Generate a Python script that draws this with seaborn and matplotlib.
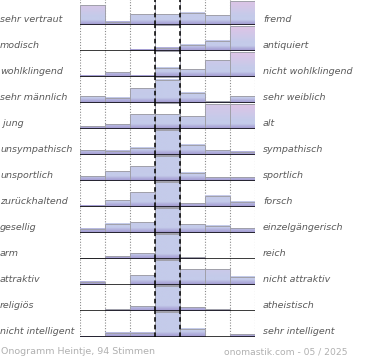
import numpy as np
import pandas as pd
import matplotlib
matplotlib.use("Agg")
import matplotlib.pyplot as plt
import seaborn as sns

left_labels = ["sehr vertraut", "modisch", "wohlklingend", "sehr männlich", " jung",
               "unsympathisch", "unsportlich", "zurückhaltend", "gesellig", "arm",
               "attraktiv", "religiös", "nicht intelligent"]
right_labels = ["fremd", "antiquiert", "nicht wohlklingend", "sehr weiblich", "alt",
                "sympathisch", "sportlich", "forsch", "einzelgängerisch", "reich",
                "nicht attraktiv", "atheistisch", "sehr intelligent"]
positions = [1, 2, 3, 4, 5, 6, 7]
row01 = [20, 3.5, 11, 11, 12.5, 10, 24]
row02 = [0, 0, 1.5, 3.5, 6.5, 10.5, 25]
row03 = [1.5, 4.7, 1.5, 9.3, 8, 17, 25]
row04 = [7, 5.5, 15, 23.5, 10.5, 2, 7]
row05 = [3, 4.7, 14.7, 14.7, 13, 25, 25]
row06 = [5, 4.5, 7.5, 25, 10.5, 5, 3.5]
row07 = [5, 10, 15, 25, 8.5, 4, 4]
row08 = [1.5, 7, 15, 25, 4, 11.5, 5.5]
row09 = [4.3, 9, 10.7, 25, 8.7, 7.3, 4.7]
row10 = [1, 2.7, 6, 25, 2, 0, 0]
row11 = [3.3, 0, 9.7, 25, 15.7, 15.7, 8.3]
row12 = [0, 2, 5, 25, 4, 2, 0]
row13 = [0.5, 4.3, 4.3, 25, 8.3, 0, 3]
rows = [row01, row02, row03, row04, row05, row06, row07, row08, row09, row10,
        row11, row12, row13]
footer_left = "Onogramm Heintje, 94 Stimmen"
footer_right = "onomastik.com - 05 / 2025"

W, H = 370, 360
fig = plt.figure(figsize=(W / 100, H / 100), dpi=100)
fig.patch.set_facecolor("white")

X0, X1 = 80, 255
ROW = 26
FIRST_BASE = 25
YMAX = 26.0

blue = np.array([196, 203, 234]) / 255
pink = np.array([222, 196, 230]) / 255
dark = np.array([150, 136, 200]) / 255


def grad(h, col, n=60):
    ys = np.linspace(0, h, n)
    pw = abs(col - 3) / 3.0
    t = ys / YMAX
    k = np.clip((t - 0.35) / 0.6, 0, 1) * pw
    c = blue[None, :] + (pink - blue)[None, :] * k[:, None]
    d = np.clip(1 - ys / 5.0, 0, 1) ** 0.8 * 0.8
    c = c * (1 - d[:, None]) + dark[None, :] * d[:, None]
    return np.repeat(c[:, None, :], 2, axis=1)


for i, vals in enumerate(rows):
    base = FIRST_BASE + ROW * i
    ax = fig.add_axes([X0 / W, (H - base) / H, (X1 - X0) / W, ROW / H])
    df = pd.DataFrame({"pos": positions, "val": vals})
    sns.barplot(data=df, x="pos", y="val", ax=ax, width=1, color=blue,
                errorbar=None, order=positions)
    ax.set_axis_off()
    ax.axvspan(2.5, 3.5, color="#ececec", zorder=0, lw=0)
    for j, p in enumerate(ax.patches):
        x0 = p.get_x()
        w = p.get_width()
        h = p.get_height()
        if h <= 0:
            p.set_visible(False)
            continue
        p.set_facecolor("none")
        p.set_edgecolor("#a0a0aa")
        p.set_linewidth(0.7)
        p.set_zorder(3)
        ax.imshow(grad(h, j), extent=[x0, x0 + w, 0, h], origin="lower",
                  aspect="auto", zorder=2, interpolation="bilinear")
    for xv in [-0.5, 0.5, 1.5, 4.5, 5.5, 6.5]:
        ax.axvline(xv, color="#8a8a8a", lw=0.8, ls=(0, (1, 1.5)), zorder=1)
    for xv in [2.5, 3.5]:
        ax.axvline(xv, color="black", lw=1.1, ls=(0, (3, 2)), zorder=4)
    ax.axhline(0, color="black", lw=1.8, zorder=5)
    ax.set_xlim(-0.5, 6.5)
    ax.set_ylim(0, YMAX)

    ty = (H - (base - 5.5)) / H
    fig.text(0 / W, ty, left_labels[i], fontsize=6.8, style="italic",
             color="#5a5a5a", ha="left", va="center", family="DejaVu Sans")
    fig.text(263 / W, ty, right_labels[i], fontsize=6.8, style="italic",
             color="#5a5a5a", ha="left", va="center", family="DejaVu Sans")

fig.text(1 / W, (H - 351) / H, footer_left, fontsize=6.8, color="#b0b0b0",
         ha="left", va="center", family="DejaVu Sans")
fig.text(347 / W, (H - 352) / H, footer_right, fontsize=6.6, color="#b0b0b0",
         ha="right", va="center", family="DejaVu Sans")

fig.savefig("out.png", dpi=100, facecolor="white")
